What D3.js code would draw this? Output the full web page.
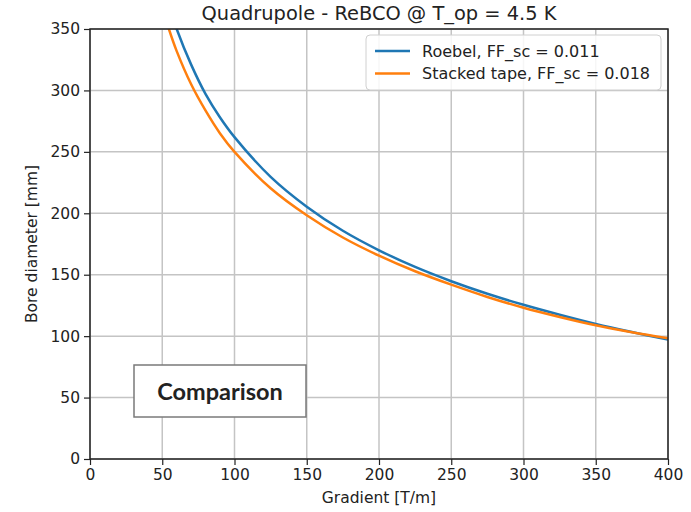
<!DOCTYPE html>
<meta charset="utf-8">
<script src="https://d3js.org/d3.v7.min.js"></script>
<style>
    body { margin: 0; background: #fff; }
    text { font-family: "DejaVu Sans", sans-serif; fill: #222; }
</style>
<svg width="691" height="512"></svg>
<script>
    // values
    var gradRoebel  = [55, 60, 70, 80, 90, 100, 125, 150, 175, 200, 225, 250, 275, 300, 325, 350, 375, 400];
    var boreRoebel  = [368, 350, 321, 297, 278, 262, 229.7, 205.4, 185.8, 169.9, 156.3, 144.7, 134.5, 125.5, 117.4, 109.9, 103.3, 97.2];
    var gradStacked = [50, 54.6, 60, 70, 80, 90, 100, 125, 150, 175, 200, 225, 250, 275, 300, 325, 350, 375, 400];
    var boreStacked = [367.6, 350, 332, 305, 283.5, 265, 250, 220.4, 198.4, 180.3, 165.5, 152.8, 141.9, 131.9, 123.1, 115.6, 108.8, 103.2, 98.3];
    var xTicks = [0, 50, 100, 150, 200, 250, 300, 350, 400];
    var yTicks = [0, 50, 100, 150, 200, 250, 300, 350];
    var seriesNames = ["Roebel, FF_sc = 0.011", "Stacked tape, FF_sc = 0.018"];
    var seriesColors = ["#1f77b4", "#ff7f0e"];

    var svg = d3.select("svg");
    var margin = {left: 90, right: 23, top: 29, bottom: 53};
    var width = 691 - margin.left - margin.right,
        height = 512 - margin.top - margin.bottom;

    var x = d3.scaleLinear().domain([0, 400]).range([margin.left, margin.left + width]);
    var y = d3.scaleLinear().domain([0, 350]).range([margin.top + height, margin.top]);

    svg.append("defs").append("clipPath").attr("id", "clip")
        .append("rect")
        .attr("x", margin.left).attr("y", margin.top)
        .attr("width", width).attr("height", height);

    // grid
    svg.append("g").selectAll("line").data(xTicks).enter().append("line")
        .attr("x1", d => x(d)).attr("x2", d => x(d))
        .attr("y1", y(0)).attr("y2", y(350))
        .attr("stroke", "#c4c4c4").attr("stroke-width", 1.5);
    svg.append("g").selectAll("line").data(yTicks).enter().append("line")
        .attr("y1", d => y(d)).attr("y2", d => y(d))
        .attr("x1", x(0)).attr("x2", x(400))
        .attr("stroke", "#c4c4c4").attr("stroke-width", 1.5);

    // curves
    var line = d3.line().x(d => x(d[0])).y(d => y(d[1])).curve(d3.curveCatmullRom.alpha(0.5));
    var series = [
        d3.zip(gradRoebel, boreRoebel),
        d3.zip(gradStacked, boreStacked)
    ];
    svg.append("g").attr("clip-path", "url(#clip)")
        .selectAll("path").data(series).enter().append("path")
        .attr("d", line)
        .attr("fill", "none")
        .attr("stroke", (d, i) => seriesColors[i])
        .attr("stroke-width", 2.5);

    // axes
    var xAxis = svg.append("g")
        .attr("transform", "translate(0," + y(0) + ")")
        .call(d3.axisBottom(x).tickValues(xTicks).tickSize(6).tickPadding(4));
    var yAxis = svg.append("g")
        .attr("transform", "translate(" + x(0) + ",0)")
        .call(d3.axisLeft(y).tickValues(yTicks).tickSize(6).tickPadding(4));
    [xAxis, yAxis].forEach(function(a) {
        a.select(".domain").remove();
        a.selectAll("line").attr("stroke", "#222").attr("stroke-width", 1.2);
        a.selectAll("text").attr("font-size", "15.5px").attr("fill", "#222")
            .style("font-family", "DejaVu Sans");
    });

    // frame
    svg.append("rect")
        .attr("x", margin.left).attr("y", margin.top)
        .attr("width", width).attr("height", height)
        .attr("fill", "none").attr("stroke", "#222").attr("stroke-width", 1.5);

    // titles
    svg.append("text")
        .attr("x", margin.left + width / 2).attr("y", 20)
        .attr("text-anchor", "middle").attr("font-size", "19.4px")
        .text("Quadrupole - ReBCO @ T_op = 4.5 K");
    svg.append("text")
        .attr("x", margin.left + width / 2).attr("y", 503)
        .attr("text-anchor", "middle").attr("font-size", "15.5px")
        .text("Gradient [T/m]");
    svg.append("text")
        .attr("transform", "translate(37," + (margin.top + height / 2) + ") rotate(-90)")
        .attr("text-anchor", "middle").attr("font-size", "15.5px")
        .text("Bore diameter [mm]");

    // legend
    var leg = svg.append("g").attr("transform", "translate(366,35)");
    leg.append("rect")
        .attr("width", 295).attr("height", 55).attr("rx", 4)
        .attr("fill", "#fff").attr("fill-opacity", 0.85)
        .attr("stroke", "#d0d0d0");
    seriesNames.forEach(function(name, i) {
        var ly = 16 + i * 22.5;
        leg.append("line")
            .attr("x1", 9).attr("x2", 44).attr("y1", ly).attr("y2", ly)
            .attr("stroke", seriesColors[i]).attr("stroke-width", 2.5);
        leg.append("text")
            .attr("x", 56).attr("y", ly).attr("dy", "0.35em")
            .attr("font-size", "16px")
            .text(name);
    });

    // annotation box
    var note = svg.append("g").attr("transform", "translate(134,365)");
    note.append("rect")
        .attr("width", 172).attr("height", 52)
        .attr("fill", "#fff").attr("stroke", "#7a7a7a").attr("stroke-width", 1.5);
    note.append("text")
        .attr("x", 86).attr("y", 27).attr("dy", "0.35em")
        .attr("text-anchor", "middle")
        .style("font-family", "Lato, 'Open Sans', sans-serif")
        .attr("font-weight", "bold").attr("font-size", "23.5px").attr("fill", "#000")
        .text("Comparison");
</script>
